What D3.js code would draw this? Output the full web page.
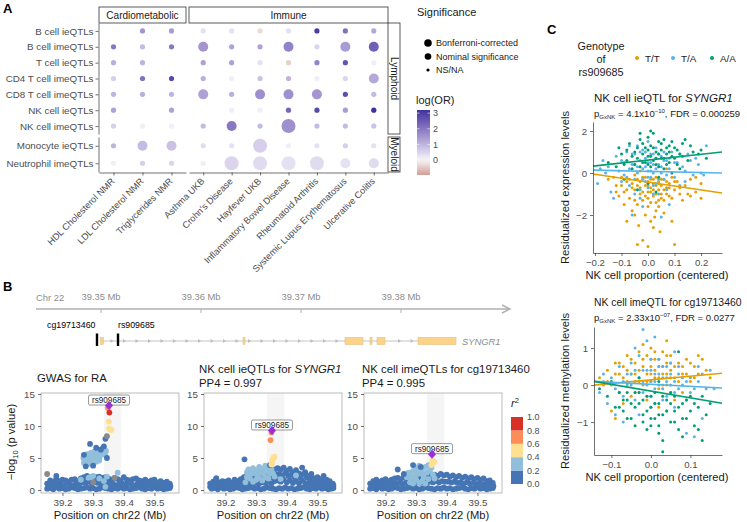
<!DOCTYPE html>
<html>
<head>
<meta charset="utf-8">
<script src="https://cdn.jsdelivr.net/npm/d3@7"></script>
<style>
  body { margin: 0; background: #fff; }
  svg { font-family: "Liberation Sans", Arial, sans-serif; }
</style>
</head>
<body>
<svg id="fig" width="747" height="522"></svg>
<script>
// ---------------- data: panel A ----------------
const traits = ["HDL Cholesterol NMR", "LDL Cholesterol NMR", "Triglycerides NMR", "Asthma UKB",
  "Crohn's Disease", "Hayfever UKB", "Inflammatory Bowel Disease", "Rheumatoid Arthritis",
  "Systemic Lupus Erythematosus", "Ulcerative Colitis"];
const cardioTraits = traits.slice(0, 3);
const immuneTraits = traits.slice(3);
const qtlSets = ["B cell ieQTLs", "B cell imeQTLs", "T cell ieQTLs", "CD4 T cell imeQTLs",
  "CD8 T cell imeQTLs", "NK cell ieQTLs", "NK cell imeQTLs", "Monocyte ieQTLs", "Neutrophil imeQTLs"];
const lymphoidSets = qtlSets.slice(0, 7);
const myeloidSets = qtlSets.slice(7);
// log(OR) per qtl set (rows) x trait (cols); null = not tested
const logOR = [
  [null, 1.5, 1.4, 0.3, 0.3, -0.3, 0.3, 3.0, 2.1, 1.2],
  [2.0, 0.9, 2.0, 1.5, 1.3, 1.3, 1.8, 0.5, 1.4, 2.4],
  [1.1, 1.0, null, 1.3, 1.3, 0.3, -0.4, 1.8, 2.6, 0.1],
  [0.6, 2.1, 2.8, 1.1, 0.1, 0.8, 1.0, 0.1, 0.5, 1.2],
  [1.0, 1.1, 1.0, 1.3, 1.1, 1.6, 1.6, 1.5, 2.7, 0.9],
  [1.3, null, 1.3, null, 0.1, 0.1, 2.3, 2.8, 1.4, 3.3],
  [0.6, -0.1, 0.1, 0.9, 2.0, 0.9, 1.6, 0.9, 0.9, 0.8],
  [1.0, 0.9, 0.8, 0.4, 0.3, 0.6, 0.1, 0.3, 0.6, 0.3],
  [0.1, 0.6, 0.5, 0.1, 0.5, 0.4, 0.3, 0.4, 0.3, 0.4]
];
// 0 = NS/NA, 1 = nominal, 2 = Bonferroni
const significance = [
  [0, 0, 0, 0, 0, 0, 0, 0, 0, 0],
  [0, 0, 0, 1, 0, 0, 1, 0, 1, 1],
  [0, 0, 0, 0, 0, 0, 0, 0, 0, 0],
  [0, 0, 0, 0, 0, 0, 0, 0, 0, 1],
  [0, 0, 0, 1, 0, 1, 1, 1, 0, 0],
  [0, 0, 0, 0, 0, 0, 0, 0, 0, 0],
  [0, 0, 0, 0, 1, 0, 2, 0, 0, 0],
  [0, 1, 1, 0, 0, 2, 0, 0, 0, 0],
  [0, 0, 0, 0, 2, 2, 2, 2, 1, 1]
];
const sigLabels = ["Bonferroni-corrected", "Nominal significance", "NS/NA"];
const orTicks = [0, 1, 2, 3];

// ---------------- data: panel B ----------------
const chrTicks = [39.35, 39.36, 39.37, 39.38];
const exonStart = [39.34995, 39.3642, 39.3744, 39.3769, 39.3776, 39.3817];
const exonEnd = [39.35025, 39.3644, 39.3762, 39.3771, 39.3784, 39.3855];
const cgPos = 39.3496, rsPos = 39.3517;
const locusTicksX = [39.2, 39.3, 39.4, 39.5];
const locusTicksY = [0, 5, 10, 15];
const r2Ticks = [0.0, 0.2, 0.4, 0.6, 0.8, 1.0];
const r2Colors = ["#4575b4", "#91bfdb", "#fee090", "#fc8d59", "#d73027"];
const posA = [39.15, 39.16, 39.17, 39.18, 39.19, 39.20, 39.21, 39.22, 39.23, 39.24, 39.25, 39.26, 39.27, 39.28,
  39.29, 39.30, 39.31, 39.32, 39.33, 39.34, 39.35, 39.36, 39.37, 39.38, 39.39, 39.40, 39.41, 39.42, 39.43,
  39.44, 39.45, 39.46, 39.47, 39.48, 39.49, 39.50, 39.51, 39.52, 39.53, 39.54, 39.55];
const posB = [39.155, 39.165, 39.175, 39.185, 39.195, 39.205, 39.215, 39.225, 39.235, 39.245, 39.255, 39.265,
  39.275, 39.285, 39.295, 39.305, 39.315, 39.325, 39.335, 39.345, 39.355, 39.365, 39.375, 39.385, 39.395,
  39.405, 39.415, 39.425, 39.435, 39.445, 39.455, 39.465, 39.475, 39.485, 39.495, 39.505, 39.515, 39.525,
  39.535, 39.545, 39.552];
const lowLayer = [0.2, 0.3, 0.1, 0.4, 0.2, 0.3, 0.1, 0.2, 0.4, 0.3, 0.1, 0.2, 0.3, 0.4, 0.2, 0.3, 0.1, 0.2, 0.4,
  0.3, 0.2, 0.1, 0.3, 0.2, 0.4, 0.2, 0.3, 0.1, 0.2, 0.3, 0.4, 0.2, 0.1, 0.3, 0.2, 0.4, 0.2, 0.3, 0.1, 0.2, 0.3];
// GWAS for RA
const gwasTop = [1.0, 1.5, 1.3, 1.8, 1.4, 1.6, 1.5, 1.3, 1.6, 1.7, 1.4, 1.8, 2.0, 2.2, 2.0, 2.1, 2.0, 2.1, 1.9,
  2.0, 1.8, 1.6, 1.9, 1.7, 1.5, 2.0, 1.6, 1.5, 1.7, 1.8, 1.5, 1.4, 1.6, 1.3, 1.5, 1.6, 1.2, 1.4, 1.1, 1.3, 1.0];
const gwasMid = [0.8, 0.6, 1.0, 0.7, 0.9, 0.6, 1.1, 0.8, 0.7, 1.0, 0.9, 1.2, 1.1, 1.3, 1.0, 1.2, 1.1, 1.0, 0.9,
  1.1, 0.8, 1.0, 0.7, 0.9, 1.0, 0.8, 1.1, 0.9, 0.7, 1.0, 0.8, 0.9, 0.6, 1.0, 0.8, 0.7, 0.9, 0.6, 0.8, 0.5, 0.6];
const gwasLight = [[39.268, 5.0], [39.272, 4.6], [39.275, 5.3], [39.278, 4.4], [39.28, 5.6], [39.283, 4.9],
  [39.286, 5.2], [39.289, 4.5], [39.292, 5.8], [39.295, 5.0], [39.298, 4.7], [39.30, 5.5], [39.303, 6.0],
  [39.306, 5.2], [39.309, 4.8], [39.312, 5.7], [39.315, 6.2], [39.318, 5.4], [39.321, 5.0], [39.324, 6.0],
  [39.327, 5.6], [39.33, 6.5], [39.333, 5.9], [39.336, 6.3], [39.339, 5.5], [39.342, 6.1], [39.27, 4.2],
  [39.29, 4.1], [39.31, 4.4], [39.32, 4.6], [39.30, 2.2], [39.32, 1.8], [39.335, 1.4], [39.34, 0.5],
  [39.38, 2.7], [39.29, 2.0], [39.345, 2.1], [39.285, 1.9], [39.26, 1.6]];
const gwasDark = [[39.29, 7.2], [39.31, 6.6], [39.276, 3.7], [39.30, 3.8], [39.335, 6.8], [39.34, 8.0],
  [39.18, 2.2], [39.325, 6.3], [39.27, 5.5], [39.345, 5.0]];
const gwasGrey = [[39.15, 2.5], [39.345, 8.4], [39.37, 1.9], [39.30, 1.2]];
const gwasYellow = [[39.351, 10.7], [39.352, 9.6], [39.355, 9.5], [39.358, 9.4], [39.36, 9.4]];
const gwasOrange = [[39.348, 12.8]];
const gwasRed = [[39.353, 12.1]];
const gwasLead = 13.2;
// NK cell ieQTLs for SYNGR1
const ieTop = [1.0, 1.3, 1.8, 1.2, 1.4, 1.3, 1.5, 1.2, 1.6, 1.4, 1.7, 2.0, 2.2, 2.5, 2.4, 2.6, 2.5, 2.7, 2.8,
  3.0, 2.6, 3.2, 3.4, 3.2, 3.5, 3.0, 3.3, 2.8, 3.1, 2.6, 3.5, 2.8, 2.2, 2.5, 1.8, 2.0, 1.7, 2.2, 1.6, 1.4, 1.0];
const ieUpper = [0.7, 0.9, 1.2, 0.8, 1.0, 0.9, 1.1, 0.8, 1.2, 1.0, 1.3, 1.5, 1.6, 1.8, 1.7, 1.9, 1.8, 2.0, 2.1,
  2.2, 1.9, 2.4, 2.5, 2.3, 2.6, 2.2, 2.4, 2.0, 2.3, 1.9, 2.5, 2.0, 1.6, 1.8, 1.3, 1.5, 1.2, 1.6, 1.1, 1.0, 0.7];
const ieMid = [0.5, 0.7, 0.6, 0.8, 0.5, 0.7, 0.6, 0.8, 0.7, 0.6, 0.8, 0.9, 1.0, 1.0, 0.9, 1.1, 1.0, 1.2, 1.1,
  1.3, 1.0, 1.4, 1.5, 1.3, 1.6, 1.2, 1.5, 1.1, 1.4, 1.0, 1.5, 1.1, 0.9, 1.0, 0.8, 0.9, 0.7, 1.0, 0.7, 0.6, 0.5];
const ieLight = [[39.27, 2.8], [39.275, 3.2], [39.28, 2.4], [39.285, 3.0], [39.29, 3.4], [39.295, 2.6],
  [39.30, 3.1], [39.305, 2.2], [39.31, 3.6], [39.315, 2.8], [39.32, 3.3], [39.325, 2.5], [39.33, 3.8],
  [39.335, 3.0], [39.34, 3.5], [39.345, 2.6], [39.35, 3.2], [39.28, 1.8], [39.29, 1.3], [39.30, 1.6],
  [39.31, 1.9], [39.32, 1.5], [39.33, 2.0], [39.34, 1.8], [39.36, 2.1], [39.38, 1.7], [39.43, 2.3],
  [39.265, 1.2], [39.27, 2.0], [39.355, 2.6]];
const ieDark = [[39.262, 4.8], [39.17, 1.8], [39.345, 3.9]];
const ieYellow = [[39.352, 4.3], [39.354, 4.8], [39.357, 5.1], [39.36, 5.2], [39.35, 4.0]];
const ieOrange = [[39.347, 7.8], [39.35, 9.0]];
const ieLead = 9.3;
// NK cell imeQTLs for cg19713460
const imeTop = [1.0, 1.4, 1.6, 1.3, 1.5, 1.7, 1.4, 1.6, 1.8, 1.9, 1.7, 2.0, 1.8, 2.0, 1.9, 2.1, 2.0, 2.2, 2.0,
  2.3, 2.1, 2.4, 2.2, 2.5, 2.3, 2.4, 2.1, 2.3, 2.0, 2.2, 1.9, 2.1, 1.8, 2.0, 1.7, 1.9, 1.6, 1.8, 1.4, 1.5, 1.1];
const imeMid = [0.7, 0.8, 0.9, 0.7, 0.8, 1.0, 0.8, 0.9, 1.0, 1.1, 0.9, 1.1, 1.0, 1.1, 1.0, 1.2, 1.1, 1.3, 1.1,
  1.3, 1.2, 1.4, 1.2, 1.4, 1.3, 1.3, 1.2, 1.3, 1.1, 1.2, 1.0, 1.2, 1.0, 1.1, 0.9, 1.0, 0.8, 0.9, 0.7, 0.7, 0.6];
const imeLight = [[39.27, 2.0], [39.28, 2.6], [39.285, 1.8], [39.29, 3.0], [39.295, 2.2], [39.30, 3.4],
  [39.305, 2.5], [39.31, 3.8], [39.315, 2.8], [39.32, 3.3], [39.325, 2.0], [39.33, 3.6], [39.335, 2.7],
  [39.34, 3.9], [39.345, 3.0], [39.35, 3.5], [39.28, 1.2], [39.29, 1.0], [39.30, 1.6], [39.31, 1.1],
  [39.32, 1.4], [39.33, 1.0], [39.34, 1.7], [39.355, 2.4], [39.36, 1.8], [39.30, 2.9], [39.32, 2.5],
  [39.275, 2.7]];
const imeDark = [[39.24, 3.2], [39.26, 2.5], [39.29, 3.9], [39.315, 3.6]];
const imeYellow = [[39.353, 4.6], [39.356, 4.2], [39.36, 4.4], [39.35, 3.9]];
const imeOrange = [[39.3495, 6.0]];
const imeLead = 5.6;

// ---------------- data: panel C ----------------
const genotypes = ["T/T", "T/A", "A/A"];
const genoColors = ["#E69F00", "#56B4E9", "#009E73"];
const exprTT = [[-0.15, -0.3], [-0.12, -0.6], [-0.1, -0.2], [-0.09, -0.9], [-0.08, -0.4], [-0.07, -1.2],
  [-0.06, -0.5], [-0.05, -0.8], [-0.05, -0.1], [-0.04, -1.5], [-0.04, -0.3], [-0.03, -0.7], [-0.03, -1.0],
  [-0.02, -0.2], [-0.02, -1.3], [-0.01, -0.6], [-0.01, -2.0], [0.0, -0.4], [0.0, -0.9], [0.0, -1.6],
  [0.01, -0.3], [0.01, -0.7], [0.02, -1.1], [0.02, -0.5], [0.03, -0.2], [0.03, -1.4], [0.04, -0.8],
  [0.04, -0.4], [0.05, -1.0], [0.05, -0.6], [0.06, -0.3], [0.06, -1.3], [0.07, -0.7], [0.08, -0.5],
  [0.08, -1.1], [0.09, -0.2], [0.1, -0.8], [0.11, -0.4], [0.12, -1.0], [0.14, -0.6], [0.16, -0.3],
  [0.18, -0.9], [0.2, -0.5], [-0.08, -2.3], [-0.02, -3.2], [0.0, -3.5], [0.02, -2.6], [-0.04, -3.4],
  [0.1, -3.4], [0.09, -2.3], [-0.06, -1.8], [0.03, -1.8], [0.06, -1.9], [-0.11, -1.1], [-0.13, -0.2],
  [0.07, 0.2], [-0.03, 0.1], [0.13, -1.3], [0.15, -1.0], [0.2, -1.2], [-0.09, -1.5], [0.01, -2.3],
  [0.04, -1.3], [-0.05, -2.0], [-0.06, -0.7], [-0.05, -1.3], [-0.04, -0.6], [-0.03, -0.4], [-0.02, -0.9],
  [-0.01, -1.1], [-0.01, -0.2], [0.0, -0.6], [0.0, -1.2], [0.01, -0.9], [0.01, -1.4], [0.02, -0.8],
  [0.02, -0.3], [0.03, -0.6], [0.03, -1.0], [0.04, -0.5], [0.04, -1.6], [0.05, -0.3], [0.05, -1.2],
  [0.06, -0.8], [0.07, -0.4], [0.07, -1.0], [0.08, -0.7], [-0.07, -0.3], [-0.08, -0.8], [-0.1, -0.6],
  [0.09, -1.2], [0.1, -0.4], [0.12, -0.7], [-0.12, -0.9], [0.16, -1.1], [0.18, -0.2], [-0.035, -2.5],
  [0.045, -2.8], [0.025, -2.1]];
const exprTA = [[-0.19, -0.5], [-0.17, 0.6], [-0.15, 0.3], [-0.14, -0.9], [-0.12, 0.8], [-0.11, 0.1],
  [-0.1, -0.4], [-0.09, 0.5], [-0.08, 1.0], [-0.07, 0.2], [-0.07, -0.6], [-0.06, 0.9], [-0.05, 0.4],
  [-0.05, -0.3], [-0.04, 1.3], [-0.04, 0.0], [-0.03, 0.6], [-0.03, -0.8], [-0.02, 1.1], [-0.02, 0.2],
  [-0.01, -0.4], [-0.01, 0.7], [0.0, 1.5], [0.0, 0.1], [0.0, -0.7], [0.01, 0.5], [0.01, -0.2], [0.02, 0.9],
  [0.02, 0.0], [0.03, 1.2], [0.03, -0.5], [0.04, 0.4], [0.04, -1.0], [0.05, 0.8], [0.05, 0.0], [0.06, -0.3],
  [0.07, 0.6], [0.07, -0.8], [0.08, 0.2], [0.09, 1.0], [0.1, -0.2], [0.11, 0.5], [0.12, -0.6], [0.13, 0.3],
  [0.15, 0.9], [0.17, -0.1], [0.19, 0.4], [0.22, 1.3], [0.2, 0.0], [-0.13, -1.2], [-0.06, -2.0],
  [-0.02, -1.6], [0.05, -2.1], [0.08, -1.5], [-0.09, -0.1], [0.14, -0.4], [-0.16, 0.0], [0.18, 0.7],
  [-0.06, 0.4], [-0.05, 0.9], [-0.04, 0.3], [-0.03, 1.0], [-0.02, -0.3], [-0.01, 0.3], [-0.01, 1.0],
  [0.0, 0.5], [0.0, -0.2], [0.01, 0.9], [0.01, 0.1], [0.02, 0.4], [0.02, -0.6], [0.03, 0.7], [0.03, 0.2],
  [0.04, 0.9], [0.04, -0.3], [0.05, 0.3], [0.06, 0.6], [0.06, 1.0], [0.07, -0.1], [0.08, 0.7], [-0.08, -0.2],
  [-0.1, 0.6], [-0.07, 1.3], [0.1, 0.5], [0.12, 0.9], [0.14, 0.1], [0.16, 0.6], [0.21, -0.1], [-0.18, 0.2],
  [-0.03, -1.2], [0.02, -1.0], [-0.05, -1.0]];
const exprAA = [[-0.15, 0.5], [-0.12, 0.3], [-0.1, 0.9], [-0.08, 0.6], [-0.07, 1.4], [-0.06, 0.2],
  [-0.05, 1.0], [-0.04, 0.7], [-0.03, 1.6], [-0.03, 0.3], [-0.02, 0.9], [-0.01, 1.2], [-0.01, 0.5],
  [0.0, 1.7], [0.0, 0.8], [0.01, 0.3], [0.01, 1.3], [0.02, 0.6], [0.02, 1.9], [0.03, 1.0], [0.03, 0.4],
  [0.04, 1.5], [0.05, 0.7], [0.05, 1.1], [0.06, 0.2], [0.06, 1.6], [0.07, 0.9], [0.08, 0.5], [0.08, 1.3],
  [0.09, 0.8], [0.1, 1.2], [0.11, 0.4], [0.12, 0.9], [0.13, 1.4], [0.15, 0.6], [0.17, 1.0], [0.2, 1.1],
  [0.22, 0.7], [-0.09, -0.3], [0.0, -0.5], [0.04, -0.2], [-0.04, -0.8], [0.09, 0.0], [-0.11, 1.2],
  [0.14, 1.6], [0.03, -0.9], [-0.05, 0.4], [-0.04, 1.2], [-0.02, 0.5], [-0.02, 1.4], [0.0, 1.1], [0.0, 0.4],
  [0.01, 0.8], [0.02, 1.2], [0.03, 0.7], [0.04, 0.9], [0.04, 0.3], [0.05, 1.4], [0.06, 0.7], [0.07, 1.2],
  [0.07, 0.4], [0.08, 1.0], [0.09, 1.5], [0.1, 0.7], [0.11, 1.1], [0.13, 0.8], [-0.06, 0.8], [-0.08, 1.1],
  [-0.09, 0.4], [0.16, 1.3], [0.19, 0.9], [0.12, 0.2], [-0.03, 1.9], [0.01, 2.0]];
const methTT = [[-0.13, 0.2], [-0.11, 0.4], [-0.1, 0.0], [-0.09, 0.6], [-0.08, 0.3], [-0.08, -0.2],
  [-0.07, 0.5], [-0.06, 0.1], [-0.06, 0.8], [-0.05, 0.3], [-0.05, -0.3], [-0.04, 0.6], [-0.04, 0.1],
  [-0.03, 0.9], [-0.03, 0.4], [-0.02, 0.0], [-0.02, 0.7], [-0.01, 0.3], [-0.01, -0.4], [0.0, 0.5],
  [0.0, 1.0], [0.0, 0.1], [0.01, 0.7], [0.01, 0.2], [0.02, -0.1], [0.02, 0.5], [0.03, 0.9], [0.03, 0.3],
  [0.04, 0.6], [0.04, 0.0], [0.05, 0.4], [0.05, 0.8], [0.06, 0.2], [0.07, 0.6], [0.08, 0.3], [0.09, 0.7],
  [0.1, 0.1], [0.11, 0.5], [0.12, 0.3], [0.14, 0.4], [-0.1, -0.7], [-0.07, -0.5], [0.02, -0.6],
  [0.06, -0.4], [-0.12, 0.0], [0.08, -0.2], [0.13, 0.7], [-0.02, 1.1], [0.04, 1.2], [-0.09, -0.9],
  [-0.06, 0.4], [-0.05, 0.7], [-0.04, 0.3], [-0.03, 0.1], [-0.02, 0.5], [-0.01, 0.8], [-0.01, 0.1],
  [0.0, 0.3], [0.0, 0.7], [0.01, 0.4], [0.01, 0.9], [0.02, 0.2], [0.02, 0.7], [0.03, 0.5], [0.03, 0.0],
  [0.04, 0.3], [0.04, 0.8], [0.05, 0.2], [0.05, 0.6], [0.06, 0.5], [0.07, 0.1], [0.08, 0.5], [-0.07, 0.2],
  [-0.08, 0.6], [-0.09, 0.3], [0.09, 0.3], [0.1, 0.6], [0.11, 0.2], [-0.11, 0.1], [0.15, 0.2], [0.12, 0.8],
  [-0.04, -0.2]];
const methTA = [[-0.13, -0.2], [-0.12, 0.3], [-0.11, -0.5], [-0.1, 0.2], [-0.09, -0.1], [-0.08, 0.5],
  [-0.07, -0.3], [-0.06, 0.3], [-0.05, 0.0], [-0.05, 0.6], [-0.04, -0.4], [-0.03, 0.2], [-0.03, 0.8],
  [-0.02, -0.2], [-0.02, 0.4], [-0.01, 0.0], [-0.01, 1.2], [0.0, -0.3], [0.0, 0.4], [0.01, 0.1],
  [0.01, -0.5], [0.02, 0.3], [0.02, 0.7], [0.03, -0.1], [0.03, 0.5], [0.04, -0.3], [0.04, 0.2], [0.05, 0.0],
  [0.05, 0.6], [0.06, -0.2], [0.07, 0.3], [0.08, 0.0], [0.09, -0.4], [0.1, 0.2], [0.11, -0.1], [0.12, 0.5],
  [0.14, -0.1], [0.15, 0.4], [-0.07, -1.0], [-0.03, -0.8], [0.09, -1.3], [0.11, -1.4], [0.04, -0.7],
  [-0.09, -0.8], [-0.02, 1.5], [0.01, 1.3], [0.06, 0.9], [-0.04, 1.0], [0.13, -0.9], [-0.06, 0.0],
  [-0.05, 0.3], [-0.04, 0.4], [-0.03, -0.2], [-0.02, 0.1], [-0.01, 0.4], [-0.01, -0.3], [0.0, 0.1],
  [0.0, 0.7], [0.01, 0.3], [0.01, -0.1], [0.02, 0.0], [0.02, 0.5], [0.03, 0.2], [0.03, -0.4], [0.04, 0.1],
  [0.04, 0.5], [0.05, -0.2], [0.05, 0.3], [0.06, 0.1], [0.07, -0.1], [0.07, 0.5], [0.08, 0.2], [-0.07, 0.1],
  [-0.08, -0.2], [0.09, 0.1], [0.1, -0.2], [0.12, 0.1], [0.13, 0.3], [0.16, -0.1], [-0.12, 0.1], [0.0, -0.6],
  [0.06, -0.6]];
const methAA = [[-0.13, -0.1], [-0.11, -0.3], [-0.1, 0.1], [-0.09, -0.6], [-0.08, -0.2], [-0.07, -0.7],
  [-0.06, -0.4], [-0.05, -0.9], [-0.04, -0.2], [-0.04, -1.1], [-0.03, -0.5], [-0.02, -0.8], [-0.01, -0.3],
  [-0.01, -1.2], [0.0, -0.6], [0.01, -0.9], [0.01, -0.2], [0.02, -1.3], [0.02, -0.5], [0.03, -0.8],
  [0.03, -1.5], [0.04, -0.4], [0.05, -1.0], [0.05, -0.2], [0.06, -0.7], [0.07, -1.2], [0.08, -0.5],
  [0.09, -0.9], [0.1, -0.3], [0.11, -1.1], [0.12, -0.6], [0.13, -1.5], [0.14, -0.8], [0.15, -0.5],
  [0.03, -1.8], [-0.06, -0.9], [0.0, -1.1], [-0.03, 0.2], [0.07, 0.9], [0.02, 0.1], [0.12, -1.2],
  [0.08, -1.4], [-0.05, -0.5], [-0.04, -0.6], [-0.03, -0.2], [-0.02, -0.4], [-0.01, -0.7], [0.0, -0.3],
  [0.01, -0.5], [0.02, -0.8], [0.03, -0.3], [0.04, -0.7], [0.05, -0.5], [0.06, -0.3], [0.06, -1.0],
  [0.07, -0.6], [0.08, -0.9], [0.09, -0.4], [0.1, -0.7], [-0.06, -0.2], [-0.07, -0.4], [-0.08, -0.6],
  [0.11, -0.5], [0.13, -0.3], [0.0, -0.9], [0.02, -1.1], [-0.02, -1.0]];
// fitted lines: [x0, y0, x1, y1] per genotype
const exprFits = [[-0.2075, -0.05, 0.279, -0.95], [-0.2075, 0.14, 0.279, 0.0], [-0.2075, 0.33, 0.279, 1.0]];
const methFits = [[-0.144, 0.0, 0.18, 0.32], [-0.144, 0.1, 0.18, -0.08], [-0.144, 0.1, 0.18, -0.49]];

// ---------------- drawing ----------------
const svg = d3.select('#fig');
const GREY_TXT = '#4d4d4d';
const AXIS_COL = '#333';

function panelLabel(txt, x, y) {
  svg.append('text').attr('x', x).attr('y', y).attr('font-size', 13).attr('font-weight', 'bold').text(txt);
}

function styleAxis(g, fs) {
  g.select('.domain').attr('stroke', AXIS_COL).attr('stroke-width', 0.7);
  g.selectAll('.tick line').attr('stroke', AXIS_COL).attr('stroke-width', 0.7);
  g.selectAll('.tick text').attr('fill', GREY_TXT).attr('font-size', fs)
    .attr('font-family', '"Liberation Sans", Arial, sans-serif');
}

// ===== Panel A =====
panelLabel('A', 3, 13);
const xCard = d3.scalePoint().domain(cardioTraits).range([99, 186]).padding(0.5);
const xImm = d3.scalePoint().domain(immuneTraits).range([189, 388]).padding(0.5);
const yLym = d3.scalePoint().domain(lymphoidSets).range([23, 134]).padding(0.5);
const yMye = d3.scalePoint().domain(myeloidSets).range([137, 172]).padding(0.5);
const xOf = t => cardioTraits.includes(t) ? xCard(t) : xImm(t);
const yOf = q => lymphoidSets.includes(q) ? yLym(q) : yMye(q);
const orColor = d3.scaleLinear().domain([-1, 0, 3.2]).range(['#cf9a91', '#f7f5fa', '#3d33a0'])
  .interpolate(d3.interpolateLab).clamp(true);
const sigRadius = [2.6, 5, 7];

[yLym, yMye].forEach(sc => {
  const g = svg.append('g').attr('transform', 'translate(98.5,0)')
    .call(d3.axisLeft(sc).tickSize(3).tickSizeOuter(0).tickPadding(2));
  styleAxis(g, 9.8);
});
[xCard, xImm].forEach(sc => {
  const g = svg.append('g').attr('transform', 'translate(0,172.5)')
    .call(d3.axisBottom(sc).tickSize(3).tickSizeOuter(0));
  styleAxis(g, 9.2);
  g.selectAll('.tick text').attr('y', 0).attr('dy', '0.35em').style('text-anchor', 'end')
    .attr('transform', 'translate(-1,7) rotate(-45)');
});

// strips
const topStrips = [['Cardiometabolic', 99, 186], ['Immune', 189, 388]];
topStrips.forEach(([lab, a, b]) => {
  svg.append('rect').attr('x', a).attr('y', 7).attr('width', b - a).attr('height', 16)
    .attr('fill', '#fff').attr('stroke', AXIS_COL).attr('stroke-width', 0.8);
  svg.append('text').attr('x', (a + b) / 2).attr('y', 18.8).attr('text-anchor', 'middle')
    .attr('font-size', 10).attr('fill', '#1a1a1a').text(lab);
});
const sideStrips = [['Lymphoid', 23, 134], ['Myeloid', 137, 172]];
sideStrips.forEach(([lab, a, b]) => {
  svg.append('rect').attr('x', 388).attr('y', a).attr('width', 12).attr('height', b - a)
    .attr('fill', '#fff').attr('stroke', AXIS_COL).attr('stroke-width', 0.8);
  svg.append('text').attr('transform', `translate(390.5,${(a + b) / 2}) rotate(90)`)
    .attr('text-anchor', 'middle').attr('font-size', 10).attr('fill', '#1a1a1a').text(lab);
});

const cells = [];
qtlSets.forEach((q, i) => traits.forEach((t, j) => {
  if (logOR[i][j] !== null) cells.push({ q, t, v: logOR[i][j], s: significance[i][j] });
}));
svg.append('g').selectAll('circle').data(cells).join('circle')
  .attr('cx', d => xOf(d.t)).attr('cy', d => yOf(d.q))
  .attr('r', d => sigRadius[d.s]).attr('fill', d => orColor(d.v));

// legend: significance
svg.append('text').attr('x', 417).attr('y', 16).attr('font-size', 11).attr('fill', '#1a1a1a').text('Significance');
const legR = [3.8, 3.3, 1.6];
sigLabels.forEach((lab, i) => {
  const y = 43 + i * 13.5;
  svg.append('circle').attr('cx', 428).attr('cy', y).attr('r', legR[i]).attr('fill', '#000');
  svg.append('text').attr('x', 436).attr('y', y + 3.2).attr('font-size', 9).attr('fill', '#1a1a1a').text(lab);
});
// legend: log(OR)
svg.append('text').attr('x', 416).attr('y', 104).attr('font-size', 11).attr('fill', '#1a1a1a').text('log(OR)');
const orBar = d3.scaleLinear().domain([-0.96, 3.2]).range([175, 110]);
const grad = svg.append('defs').append('linearGradient').attr('id', 'orgrad')
  .attr('x1', 0).attr('y1', 1).attr('x2', 0).attr('y2', 0);
d3.range(0, 1.001, 0.05).forEach(f => {
  grad.append('stop').attr('offset', f).attr('stop-color', orColor(-0.96 + f * (3.2 + 0.96)));
});
svg.append('rect').attr('x', 417).attr('y', 110).attr('width', 13).attr('height', 65).attr('fill', 'url(#orgrad)');
orTicks.forEach(v => {
  const y = orBar(v);
  svg.append('line').attr('x1', 417).attr('x2', 419.5).attr('y1', y).attr('y2', y).attr('stroke', '#fff').attr('stroke-width', 0.6);
  svg.append('line').attr('x1', 427.5).attr('x2', 430).attr('y1', y).attr('y2', y).attr('stroke', '#fff').attr('stroke-width', 0.6);
  svg.append('text').attr('x', 433).attr('y', y + 3.2).attr('font-size', 9).attr('fill', GREY_TXT).text(v);
});

// ===== Panel B =====
panelLabel('B', 3, 291);
const gx = d3.scaleLinear().domain([39.35, 39.38]).range([101, 401]);
svg.append('text').attr('x', 36).attr('y', 301).attr('font-size', 9.4).attr('fill', '#8c8c8c').text('Chr 22');
svg.append('line').attr('x1', 36).attr('x2', 510).attr('y1', 309).attr('y2', 309)
  .attr('stroke', '#b0b0b0').attr('stroke-width', 1.4);
svg.append('polyline').attr('points', '502,305 510,309 502,313').attr('fill', 'none')
  .attr('stroke', '#b0b0b0').attr('stroke-width', 1.4);
chrTicks.forEach(v => {
  svg.append('line').attr('x1', gx(v)).attr('x2', gx(v)).attr('y1', 309).attr('y2', 313)
    .attr('stroke', '#b0b0b0').attr('stroke-width', 1);
  svg.append('text').attr('x', gx(v)).attr('y', 300).attr('text-anchor', 'middle')
    .attr('font-size', 9.4).attr('fill', '#8c8c8c').text(v.toFixed(2) + ' Mb');
});
// gene model
svg.append('line').attr('x1', gx(exonStart[0])).attr('x2', gx(exonEnd[exonEnd.length - 1]))
  .attr('y1', 341).attr('y2', 341).attr('stroke', '#b5b5b5').attr('stroke-width', 0.8);
d3.range(gx(39.3505) + 6, gx(39.3817) - 4, 12.5).forEach(x => {
  const inExon = exonStart.some((s, i) => x > gx(s) - 3 && x < gx(exonEnd[i]) + 3);
  if (!inExon) {
    svg.append('path').attr('d', `M${x - 1.5},339 L${x + 1.5},341 L${x - 1.5},343 Z`).attr('fill', '#bdbdbd');
  }
});
exonStart.forEach((s, i) => {
  svg.append('rect').attr('x', gx(s)).attr('y', 337.5).attr('width', gx(exonEnd[i]) - gx(s)).attr('height', 7)
    .attr('fill', '#fdd38a').attr('stroke', '#d9b878').attr('stroke-width', 0.5);
});
svg.append('text').attr('x', gx(39.3855) + 6).attr('y', 344.5).attr('font-size', 9.4)
  .attr('font-style', 'italic').attr('fill', '#8c8c8c').text('SYNGR1');
[[cgPos, 'cg19713460', 47], [rsPos, 'rs909685', 118]].forEach(([p, lab, tx]) => {
  svg.append('rect').attr('x', gx(p) - 1.2).attr('y', 333.5).attr('width', 2.4).attr('height', 12.5).attr('fill', '#000');
  svg.append('text').attr('x', tx).attr('y', 328).attr('font-size', 8.8).attr('fill', '#000').text(lab);
});

// locus zoom panels
const ly = d3.scaleLinear().domain([-0.47, 15.16]).range([493, 393]);
function drawLocus(x0, x1, cfg) {
  const lx = d3.scaleLinear().domain([39.13, 39.58]).range([x0, x1]);
  const g = svg.append('g');
  g.append('rect').attr('x', lx(39.335)).attr('y', 393).attr('width', lx(39.392) - lx(39.335))
    .attr('height', 100).attr('fill', '#f5f5f5');
  const dot = (data, col) => g.append('g').selectAll('circle').data(data).join('circle')
    .attr('cx', d => lx(d[0])).attr('cy', d => ly(d[1])).attr('r', 2.9).attr('fill', col);
  cfg.layers.forEach(([pos, vals]) => dot(pos.map((p, i) => [p, vals[i]]), r2Colors[0]));
  dot(cfg.light, r2Colors[1]);
  dot(cfg.dark, r2Colors[0]);
  if (cfg.grey) dot(cfg.grey, '#8a8a8a');
  dot(cfg.yellow, r2Colors[2]);
  dot(cfg.orange, r2Colors[3]);
  if (cfg.red) dot(cfg.red, r2Colors[4]);
  // label box + lead diamond
  const cx = lx(rsPos), cy = ly(cfg.lead);
  g.append('rect').attr('x', cx - 20.5).attr('y', cy - 10.5).attr('width', 41).attr('height', 10).attr('rx', 1.5)
    .attr('fill', '#fff').attr('stroke', '#555').attr('stroke-width', 0.6);
  g.append('text').attr('x', cx).attr('y', cy - 2.6).attr('text-anchor', 'middle').attr('font-size', 8.2)
    .attr('fill', '#222').text('rs909685');
  g.append('path').attr('d', `M${cx},${cy - 4.5} L${cx + 4},${cy} L${cx},${cy + 4.5} L${cx - 4},${cy} Z`)
    .attr('fill', '#9a2fd5');
  // frame + axes
  g.append('rect').attr('x', x0).attr('y', 393).attr('width', x1 - x0).attr('height', 100)
    .attr('fill', 'none').attr('stroke', '#9e9e9e').attr('stroke-width', 0.7);
  const ax = g.append('g').attr('transform', 'translate(0,493)')
    .call(d3.axisBottom(lx).tickValues(locusTicksX).tickSize(3).tickFormat(d3.format('.1f')));
  styleAxis(ax, 9.8);
  ax.select('.domain').remove();
  const ay = g.append('g').attr('transform', `translate(${x0},0)`)
    .call(d3.axisLeft(ly).tickValues(locusTicksY).tickSize(3));
  styleAxis(ay, 9.8);
  ay.select('.domain').remove();
  g.append('text').attr('x', (x0 + x1) / 2).attr('y', 519).attr('text-anchor', 'middle')
    .attr('font-size', 11.2).attr('fill', '#1a1a1a').text('Position on chr22 (Mb)');
}
drawLocus(41, 179, { layers: [[posA, lowLayer], [posB, gwasMid], [posA, gwasTop]], light: gwasLight, dark: gwasDark,
  grey: gwasGrey, yellow: gwasYellow, orange: gwasOrange, red: gwasRed, lead: gwasLead });
drawLocus(204, 342, { layers: [[posB, lowLayer], [posA, ieMid], [posB, ieUpper], [posA, ieTop]], light: ieLight,
  dark: ieDark, yellow: ieYellow, orange: ieOrange, lead: ieLead });
drawLocus(364, 502, { layers: [[posA, lowLayer], [posB, imeMid], [posA, imeTop]], light: imeLight, dark: imeDark,
  yellow: imeYellow, orange: imeOrange, lead: imeLead });

// titles
const tTxt = (x, y, parts, fs) => {
  const t = svg.append('text').attr('x', x).attr('y', y).attr('font-size', fs || 11.4).attr('fill', '#1a1a1a');
  parts.forEach(([s, it]) => t.append('tspan').attr('font-style', it ? 'italic' : 'normal').text(s));
};
tTxt(37, 382, [['GWAS for RA']]);
tTxt(199, 373, [['NK cell ieQTLs for '], ['SYNGR1', true]]);
tTxt(199, 387, [['PP4 = 0.997']]);
tTxt(362, 373, [['NK cell imeQTLs for cg19713460']]);
tTxt(362, 387, [['PP4 = 0.995']]);
const yt = svg.append('text').attr('transform', 'translate(15,442) rotate(-90)').attr('text-anchor', 'middle')
  .attr('font-size', 11.2).attr('fill', '#1a1a1a');
yt.append('tspan').text('\u2212log');
yt.append('tspan').attr('font-size', 7.5).attr('dy', 2.5).text('10');
yt.append('tspan').attr('dy', -2.5).text(' (p value)');

// r2 legend
const rt = svg.append('text').attr('x', 511).attr('y', 407).attr('font-size', 11).attr('fill', '#1a1a1a');
rt.append('tspan').attr('font-style', 'italic').text('r');
rt.append('tspan').attr('font-size', 7.5).attr('dy', -4.5).text('2');
const r2y = d3.scaleLinear().domain([0, 1]).range([484, 417]);
r2Colors.forEach((c, i) => {
  svg.append('rect').attr('x', 511).attr('y', r2y(r2Ticks[i + 1])).attr('width', 12)
    .attr('height', r2y(r2Ticks[i]) - r2y(r2Ticks[i + 1])).attr('fill', c);
});
r2Ticks.forEach(v => {
  svg.append('text').attr('x', 527).attr('y', r2y(v) + 3.2).attr('font-size', 9).attr('fill', GREY_TXT).text(v.toFixed(1));
});

// ===== Panel C =====
panelLabel('C', 547, 34);
[['Genotype', 50], ['of', 63], ['rs909685', 76]].forEach(([s, y]) => {
  svg.append('text').attr('x', 601).attr('y', y).attr('text-anchor', 'middle').attr('font-size', 10.8)
    .attr('fill', '#1a1a1a').text(s);
});
const legX = [637, 673, 712];
genotypes.forEach((gt, i) => {
  svg.append('circle').attr('cx', legX[i]).attr('cy', 58).attr('r', 2).attr('fill', genoColors[i]);
  svg.append('text').attr('x', legX[i] + 8).attr('y', 61.5).attr('font-size', 9.8).attr('fill', '#1a1a1a').text(gt);
});

function subtitle(x, y, pv, pexp, fdr) {
  const t = svg.append('text').attr('x', x).attr('y', y).attr('font-size', 9.5).attr('fill', '#1a1a1a');
  t.append('tspan').text('p');
  t.append('tspan').attr('font-size', 6).attr('dy', 2).text('GxNK');
  t.append('tspan').attr('dy', -2).text(` = ${pv}x10`);
  t.append('tspan').attr('font-size', 6).attr('dy', -4).text(pexp);
  t.append('tspan').attr('dy', 4).text(`, FDR = ${fdr}`);
}

function drawScatter(cfg) {
  const x = d3.scaleLinear().domain(cfg.xd).range([cfg.x0, 722]);
  const y = d3.scaleLinear().domain(cfg.yd).range([cfg.y1, cfg.y0]);
  const g = svg.append('g');
  cfg.sets.forEach((pts, i) => {
    g.append('g').selectAll('circle').data(pts).join('circle')
      .attr('cx', d => x(d[0])).attr('cy', d => y(d[1])).attr('r', 1.5).attr('fill', genoColors[i]);
  });
  cfg.fits.forEach((f, i) => {
    g.append('line').attr('x1', x(f[0])).attr('y1', y(f[1])).attr('x2', x(f[2])).attr('y2', y(f[3]))
      .attr('stroke', genoColors[i]).attr('stroke-width', 1.6);
  });
  const ax = g.append('g').attr('transform', `translate(0,${cfg.y1})`)
    .call(d3.axisBottom(x).tickValues(cfg.xt).tickSize(3).tickSizeOuter(0).tickFormat(d3.format('.1f')));
  styleAxis(ax, 9.6);
  const ay = g.append('g').attr('transform', `translate(${cfg.x0},0)`)
    .call(d3.axisLeft(y).tickValues(cfg.yt).tickSize(3).tickSizeOuter(0).tickFormat(d3.format('d')));
  styleAxis(ay, 9.6);
  g.append('text').attr('x', 657).attr('y', cfg.y1 + 26).attr('text-anchor', 'middle').attr('font-size', 11.2)
    .attr('fill', '#1a1a1a').text('NK cell proportion (centered)');
  g.append('text').attr('transform', `translate(569,${(cfg.y0 + cfg.y1) / 2}) rotate(-90)`)
    .attr('text-anchor', 'middle').attr('font-size', 11.2).attr('fill', '#1a1a1a').text(cfg.ylab);
}

tTxt(594, 102, [['NK cell ieQTL for '], ['SYNGR1', true]], 11.6);
subtitle(594, 117, '4.1', '\u221210', '0.000259');
drawScatter({ xd: [-0.2075, 0.279], yd: [-3.81, 2.43], x0: 593, y0: 122, y1: 253, sets: [exprTT, exprTA, exprAA],
  fits: exprFits, xt: [-0.2, -0.1, 0, 0.1, 0.2], yt: [-2, 0, 2], ylab: 'Residualized expression levels' });

tTxt(594, 306, [['NK cell imeQTL for cg19713460']], 10.4);
subtitle(594, 321, '2.33', '\u221207', '0.0277');
drawScatter({ xd: [-0.144, 0.18], yd: [-1.89, 1.57], x0: 594, y0: 327, y1: 455, sets: [methTT, methTA, methAA],
  fits: methFits, xt: [-0.1, 0, 0.1], yt: [-1, 0, 1], ylab: 'Residualized methylation levels' });
</script>
</body>
</html>
